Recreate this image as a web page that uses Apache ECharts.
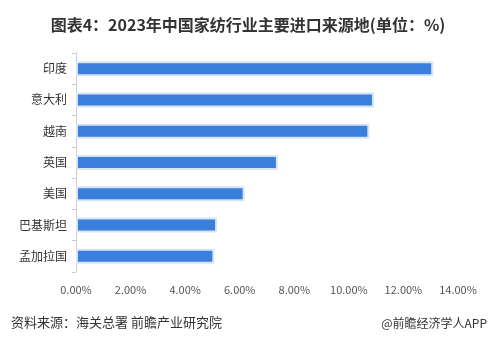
<!DOCTYPE html>
<html>
<head>
<meta charset="utf-8">
<script src="https://cdn.jsdelivr.net/npm/echarts@6/dist/echarts.min.js"></script>
<style>html,body{margin:0;padding:0;background:#fff}#c{width:496px;height:343px}</style>
</head>
<body>
<div id="c"></div>
<script>
const categories = ['印度', '意大利', '越南', '英国', '美国', '巴基斯坦', '孟加拉国'];
const values = [13.09, 10.92, 10.75, 7.40, 6.18, 5.17, 5.07];
const xTicks = [0, 2, 4, 6, 8, 10, 12, 14];

const chart = echarts.init(document.getElementById('c'));
const FONT = '"Microsoft YaHei","Noto Sans CJK SC",sans-serif';
chart.setOption({
  animation: false,
  textStyle: { fontFamily: FONT },
  title: [{
    text: '图表4：2023年中国家纺行业主要进口来源地(单位：%)',
    left: 'center', top: 12,
    textStyle: { fontSize: 16, fontWeight: 'bold', color: '#333', fontFamily: FONT }
  }, {
    text: '资料来源：海关总署 前瞻产业研究院',
    left: 6, top: 311,
    textStyle: { fontSize: 13, fontWeight: 'normal', color: '#333', fontFamily: FONT }
  }, {
    text: '@前瞻经济学人APP',
    right: 4, top: 312,
    textStyle: { fontSize: 12, fontWeight: 'normal', color: '#333', fontFamily: FONT }
  }],
  grid: { left: 76, right: 38, top: 53, bottom: 71, containLabel: false },
  xAxis: {
    type: 'value', min: xTicks[0], max: xTicks[xTicks.length - 1], interval: 2,
    axisLine: { show: false }, axisTick: { show: false }, splitLine: { show: false },
    axisLabel: { color: '#555', fontSize: 11, margin: 12, formatter: v => v.toFixed(2) + '%' }
  },
  yAxis: {
    type: 'category', data: categories, inverse: true,
    axisLine: { show: true, lineStyle: { color: '#ccc' } },
    axisTick: { show: true, length: 4, lineStyle: { color: '#ccc' } },
    axisLabel: { color: '#333', fontSize: 12, margin: 9 }
  },
  series: [{
    type: 'bar', data: values, barWidth: 15,
    itemStyle: { color: '#3b7fdd', borderColor: '#d6e4f6', borderWidth: 2 }
  }]
});
</script>
</body>
</html>
